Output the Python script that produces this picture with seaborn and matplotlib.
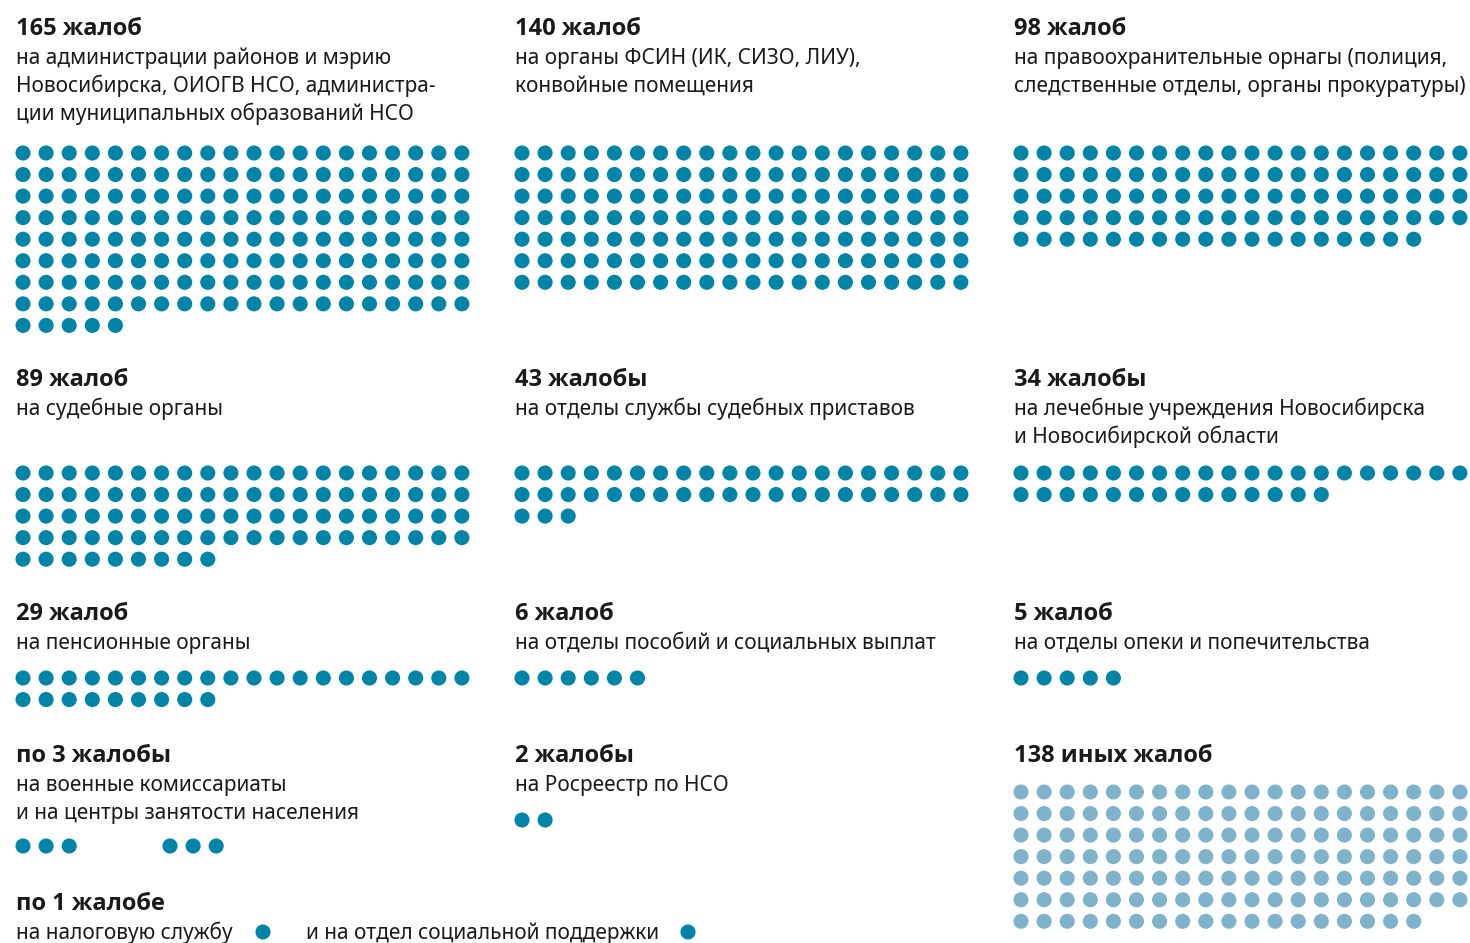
import seaborn as sns
from matplotlib import pyplot as plt
import pandas as pd

sns.set_theme(style='white')
plt.rcParams['font.family'] = ['Noto Sans', 'DejaVu Sans']

# data
counts = [165, 140, 98, 89, 43, 34, 29, 6, 5, 3, 3, 2, 138]
kinds = ['main'] * 12 + ['other']
titles = ['165 жалоб', '140 жалоб', '98 жалоб',
          '89 жалоб', '43 жалобы', '34 жалобы',
          '29 жалоб', '6 жалоб', '5 жалоб',
          'по 3 жалобы', '2 жалобы', '138 иных жалоб',
          'по 1 жалобе']
subtitles = [
    ['на администрации районов и мэрию', 'Новосибирска, ОИОГВ НСО, администра-', 'ции муниципальных образований НСО'],
    ['на органы ФСИН (ИК, СИЗО, ЛИУ),', 'конвойные помещения'],
    ['на правоохранительные орнагы (полиция,', 'следственные отделы, органы прокуратуры)'],
    ['на судебные органы'],
    ['на отделы службы судебных приставов'],
    ['на лечебные учреждения Новосибирска', 'и Новосибирской области'],
    ['на пенсионные органы'],
    ['на отделы пособий и социальных выплат'],
    ['на отделы опеки и попечительства'],
    ['на военные комиссариаты', 'и на центры занятости населения'],
    ['на Росреестр по НСО'],
    [],
    [],
]
single_labels = ['на налоговую службу', 'и на отдел социальной поддержки']
single_counts = [1, 1]

# layout (pixels): text left, title baseline, dot grid origin per block
text_pos = [(16, 35), (515, 35), (1014, 35),
            (16, 386), (515, 386), (1014, 386),
            (16, 620), (515, 620), (1014, 620),
            (16, 762), (515, 762), (1014, 762),
            (16, 910)]
grid_pos = [(23, 153), (522, 153), (1021, 153),
            (23, 473), (522, 473), (1021, 473),
            (23, 678), (522, 678), (1021, 678),
            (23, 846), (170, 846), (522, 820), (1021, 792)]
single_pos = [(263, 932), (688, 932)]
single_text_x = [16, 306]
per_row, dx, dy = 20, 23.1, 21.55

rows = []
for n, kind, (x0, y0) in zip(counts, kinds, grid_pos):
    for i in range(n):
        rows.append({'x': x0 + (i % per_row) * dx, 'y': y0 + (i // per_row) * dy, 'kind': kind})
for n, (x0, y0) in zip(single_counts, single_pos):
    for i in range(n):
        rows.append({'x': x0 + i * dx, 'y': y0, 'kind': 'main'})
dots = pd.DataFrame(rows)

fig = plt.figure(figsize=(14.7, 9.43), dpi=100)
ax = fig.add_axes([0, 0, 1, 1])
sns.scatterplot(data=dots, x='x', y='y', hue='kind',
                palette={'main': '#0085a8', 'other': '#7fb3cc'},
                s=118, linewidth=0, legend=False, ax=ax)
ax.set_xlim(0, 1470)
ax.set_ylim(943, 0)
ax.axis('off')

ink = '#1a1a1a'
bold_family = ['Open Sans', 'DejaVu Sans']
for title, subs, (x, y) in zip(titles, subtitles, text_pos):
    ax.text(x, y, title, fontsize=17, fontweight='bold', family=bold_family,
            color=ink, va='baseline')
    for k, line in enumerate(subs):
        ax.text(x, y + 29 + k * 28, line, fontsize=15, color=ink, va='baseline')

for label, x, (_, y) in zip(single_labels, single_text_x, single_pos):
    ax.text(x, y + 7, label, fontsize=15, color=ink, va='baseline')

fig.savefig('out.png', dpi=100)
